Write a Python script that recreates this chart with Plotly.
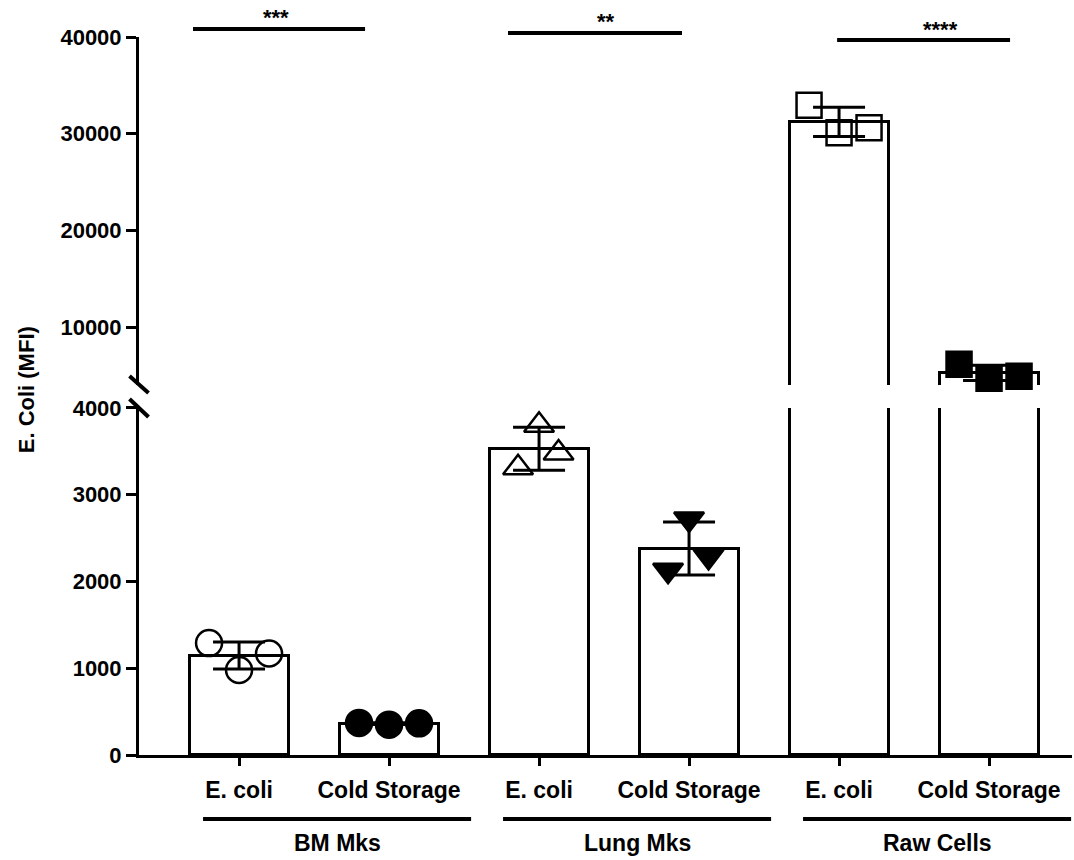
import numpy as np
import plotly.graph_objects as go

# ---------------- data ----------------
conditions = ["E. coli", "Cold Storage", "E. coli", "Cold Storage", "E. coli", "Cold Storage"]
groups = ["BM Mks", "Lung Mks", "Raw Cells"]
bm_ecoli = [1290, 980, 1170]
bm_cold = [370, 350, 365]
lung_ecoli = [3310, 3800, 3480]
lung_cold = [2130, 2720, 2290]
raw_ecoli = [32950, 30100, 30600]
raw_cold = [6150, 4700, 4900]
significance = ["***", "**", "****"]
y_low_ticks = [0, 1000, 2000, 3000, 4000]
y_high_ticks = [10000, 20000, 30000, 40000]
axis_break = 4000
y_max = 40000

series = [bm_ecoli, bm_cold, lung_ecoli, lung_cold, raw_ecoli, raw_cold]

# ---------------- styles ----------------
symbols = ["circle-open", "circle", "triangle-up-open", "triangle-down", "square-open", "square"]
marker_sizes = [26, 26, 26, 26, 25, 25]
jitters = [[-0.2, 0, 0.2], [-0.2, 0, 0.2], [-0.14, 0, 0.13],
           [-0.14, 0, 0.13], [-0.2, 0, 0.2], [-0.2, 0, 0.2]]
FONT = "Liberation Sans, Arial, sans-serif"
BLACK = "black"

positions = np.arange(len(series), dtype=float)
means = [float(np.mean(s)) for s in series]
sds = [float(np.std(s, ddof=1)) for s in series]

fig = go.Figure()

# bars in both panels (each clipped by its own axis range)
for ya in ["y", "y2"]:
    fig.add_trace(go.Bar(
        x=positions, y=means, width=0.66, xaxis="x", yaxis=ya,
        marker=dict(color="white", line=dict(color=BLACK, width=3)),
        showlegend=False, hoverinfo="skip"))

for i, vals in enumerate(series):
    ya = "y2" if means[i] > axis_break else "y"
    xs = [positions[i] + j for j in jitters[i]]
    fig.add_trace(go.Scatter(
        x=xs, y=vals, mode="markers", xaxis="x", yaxis=ya, cliponaxis=False,
        marker=dict(symbol=symbols[i], size=marker_sizes[i], color=BLACK,
                    line=dict(color=BLACK, width=2.5)),
        showlegend=False, hoverinfo="skip"))
    fig.add_trace(go.Scatter(
        x=[positions[i]], y=[means[i]], mode="markers", xaxis="x", yaxis=ya,
        cliponaxis=False,
        marker=dict(size=1, color="rgba(0,0,0,0)"),
        error_y=dict(type="data", array=[sds[i]], visible=True,
                     color=BLACK, thickness=3, width=26),
        showlegend=False, hoverinfo="skip"))

axis_common = dict(showline=True, linewidth=3, linecolor=BLACK, ticks="outside",
                   tickwidth=3, tickcolor=BLACK, showgrid=False, zeroline=False)
ytickfont = dict(family=FONT, size=22, color=BLACK, weight="bold")

low_dom = [0, 0.4833]
high_dom = [0.5153, 1]

fig.update_layout(
    width=1074, height=860,
    margin=dict(l=139, r=2, t=37, b=105),
    paper_bgcolor="white", plot_bgcolor="white",
    bargap=0,
    xaxis=dict(domain=[0, 1], range=[-0.667, 5.553], anchor="y",
               tickvals=positions, ticktext=conditions, ticklen=8,
               ticklabelstandoff=4,
               tickfont=dict(family=FONT, size=23, color=BLACK, weight="bold"),
               **axis_common),
    yaxis=dict(domain=low_dom, range=[0, axis_break], anchor="x",
               tickvals=y_low_ticks, tickformat="d", ticklen=10,
               tickfont=ytickfont, **axis_common),
    yaxis2=dict(domain=high_dom, range=[axis_break, y_max], anchor="x",
                tickvals=y_high_ticks, tickformat="d", ticklen=10,
                tickfont=ytickfont, **axis_common),
)

shapes = []
annotations = []

# axis break marks
shapes.append(dict(type="line", xref="x domain", yref="y2 domain",
                   xsizemode="pixel", ysizemode="pixel", xanchor=0, yanchor=0,
                   x0=-9.5, x1=9.5, y0=9, y1=-8, line=dict(color=BLACK, width=4)))
shapes.append(dict(type="line", xref="x domain", yref="y domain",
                   xsizemode="pixel", ysizemode="pixel", xanchor=0, yanchor=1,
                   x0=-9.5, x1=9.5, y0=9, y1=-9, line=dict(color=BLACK, width=4)))

# significance bars
sig_x0_off = [-0.307, -0.207, -0.013]
sig_x1_off = [-0.16, -0.047, 0.14]
sig_line_y = [1.0111, 1.0056, 0.9958]
sig_text_y = [1.027, 1.0215, 1.0103]
sig_text_off = [-0.02, 0.07, 0.11]
for g in range(3):
    x0 = positions[2 * g] + sig_x0_off[g]
    x1 = positions[2 * g + 1] + sig_x1_off[g]
    shapes.append(dict(type="line", xref="x", yref="paper", x0=x0, x1=x1,
                       y0=sig_line_y[g], y1=sig_line_y[g],
                       line=dict(color=BLACK, width=4)))
    annotations.append(dict(xref="x", yref="paper", x=(x0 + x1) / 2 + sig_text_off[g],
                            y=sig_text_y[g], text=significance[g], showarrow=False,
                            yanchor="middle",
                            font=dict(family=FONT, size=22, color=BLACK, weight="bold")))

# group underlines and labels
for g in range(3):
    x0 = positions[2 * g] - 0.24
    x1 = positions[2 * g + 1] + 0.547
    shapes.append(dict(type="line", xref="x", yref="paper", x0=x0, x1=x1,
                       y0=-0.0891, y1=-0.0891, line=dict(color=BLACK, width=4)))
    annotations.append(dict(xref="x", yref="paper", x=(x0 + x1) / 2, y=-0.1226,
                            text=groups[g], showarrow=False, yanchor="middle",
                            font=dict(family=FONT, size=23, color=BLACK, weight="bold")))

# y-axis title
annotations.append(dict(xref="paper", yref="paper", x=-0.1211, y=0.508,
                        text="E. Coli (MFI)", textangle=-90, showarrow=False,
                        xanchor="center", yanchor="middle",
                        font=dict(family=FONT, size=22, color=BLACK, weight="bold")))

fig.update_layout(shapes=shapes, annotations=annotations)
fig.write_html("out.html")
